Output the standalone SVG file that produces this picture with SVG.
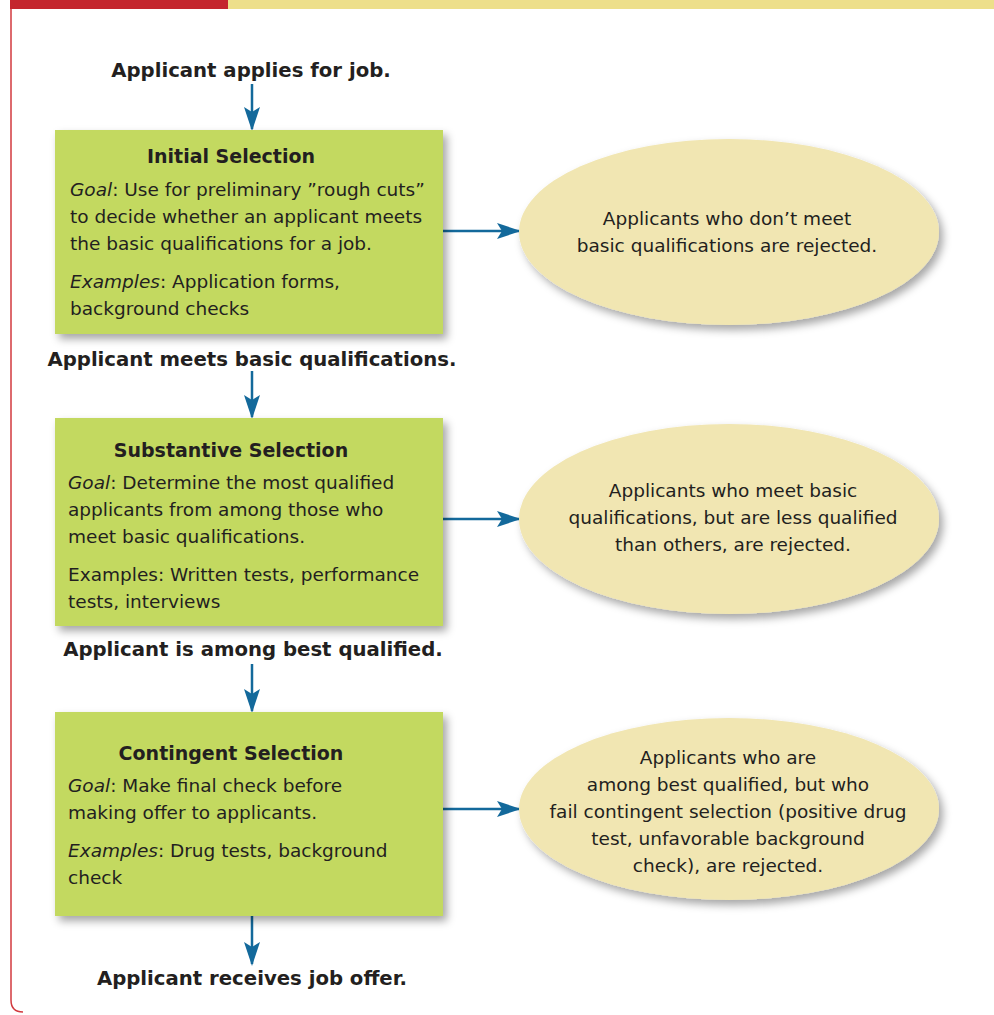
<svg xmlns="http://www.w3.org/2000/svg" width="994" height="1015" viewBox="0 0 994 1015">
<defs>
<filter id="sh" x="-10%" y="-10%" width="125%" height="130%">
<feDropShadow dx="4" dy="5" stdDeviation="4" flood-color="#000" flood-opacity="0.35"/>
</filter>
<marker id="ah" markerWidth="24" markerHeight="16" refX="22" refY="8" orient="auto" markerUnits="userSpaceOnUse">
<path d="M0,0 L24,8 L0,16 L5,8 Z" fill="#13699B"/>
</marker>
</defs>
<style>
text{font-family:"DejaVu Sans","Liberation Sans",sans-serif;fill:#231F20}
.lab{font-size:19.7px;font-weight:bold;text-anchor:middle}
.tit{font-size:19px;font-weight:bold;text-anchor:middle}
.body{font-size:18.5px}
.ell{font-size:18.5px;text-anchor:middle}
.box{fill:#C3D960;filter:url(#sh)}
.oval{fill:#F1E6B2;filter:url(#sh)}
.con{stroke:#13699B;stroke-width:2.5;fill:none;marker-end:url(#ah)}
</style>
<rect width="994" height="1015" fill="#fff"/>
<g id="frame">
<rect x="10" y="0" width="218" height="9" fill="#C4262E"/>
<rect x="228" y="0" width="766" height="9" fill="#EDDF8A"/>
<path d="M11,9 L11,1000 Q11,1012 23,1012" stroke="#D23A3F" stroke-width="1.5" fill="none"/>
</g>
<g id="connectors">
<line class="con" x1="252" y1="84" x2="252" y2="129"/>
<line class="con" x1="252" y1="371" x2="252" y2="417"/>
<line class="con" x1="252" y1="664" x2="252" y2="711"/>
<line class="con" x1="252" y1="916" x2="252" y2="964"/>
<line class="con" x1="443" y1="231" x2="519" y2="231"/>
<line class="con" x1="443" y1="519" x2="519" y2="519"/>
<line class="con" x1="443" y1="809" x2="519" y2="809"/>
</g>
<g id="lab1"><text class="lab" x="251" y="77">Applicant applies for job.</text></g>
<g id="lab2"><text class="lab" x="252" y="366">Applicant meets basic qualifications.</text></g>
<g id="lab3"><text class="lab" x="253" y="656">Applicant is among best qualified.</text></g>
<g id="lab4"><text class="lab" x="252" y="985">Applicant receives job offer.</text></g>
<g id="initial">
<rect class="box" x="55" y="130" width="388" height="204"/>
<text class="tit" x="231" y="163">Initial Selection</text>
<text class="body" x="70" y="196"><tspan font-style="italic">Goal</tspan>: Use for preliminary ”rough cuts”</text>
<text class="body" x="70" y="223">to decide whether an applicant meets</text>
<text class="body" x="70" y="250">the basic qualifications for a job.</text>
<text class="body" x="70" y="288"><tspan font-style="italic">Examples</tspan>: Application forms,</text>
<text class="body" x="70" y="315">background checks</text>
</g>
<g id="substantive">
<rect class="box" x="55" y="418" width="388" height="208"/>
<text class="tit" x="231" y="457">Substantive Selection</text>
<text class="body" x="68" y="489"><tspan font-style="italic">Goal</tspan>: Determine the most qualified</text>
<text class="body" x="68" y="516">applicants from among those who</text>
<text class="body" x="68" y="543">meet basic qualifications.</text>
<text class="body" x="68" y="581">Examples: Written tests, performance</text>
<text class="body" x="68" y="608">tests, interviews</text>
</g>
<g id="contingent">
<rect class="box" x="55" y="712" width="388" height="204"/>
<text class="tit" x="231" y="760">Contingent Selection</text>
<text class="body" x="68" y="792"><tspan font-style="italic">Goal</tspan>: Make final check before</text>
<text class="body" x="68" y="819">making offer to applicants.</text>
<text class="body" x="68" y="857"><tspan font-style="italic">Examples</tspan>: Drug tests, background</text>
<text class="body" x="68" y="884">check</text>
</g>
<g id="reject1">
<ellipse class="oval" cx="729" cy="232" rx="210" ry="93"/>
<text class="ell" x="727" y="225">Applicants who don’t meet</text>
<text class="ell" x="727" y="252">basic qualifications are rejected.</text>
</g>
<g id="reject2">
<ellipse class="oval" cx="729" cy="519" rx="210" ry="95"/>
<text class="ell" x="733" y="497">Applicants who meet basic</text>
<text class="ell" x="733" y="524">qualifications, but are less qualified</text>
<text class="ell" x="733" y="551">than others, are rejected.</text>
</g>
<g id="reject3">
<ellipse class="oval" cx="729" cy="809" rx="210" ry="91"/>
<text class="ell" x="728" y="764">Applicants who are</text>
<text class="ell" x="728" y="791">among best qualified, but who</text>
<text class="ell" x="728" y="818">fail contingent selection (positive drug</text>
<text class="ell" x="728" y="845">test, unfavorable background</text>
<text class="ell" x="728" y="872">check), are rejected.</text>
</g>
</svg>
